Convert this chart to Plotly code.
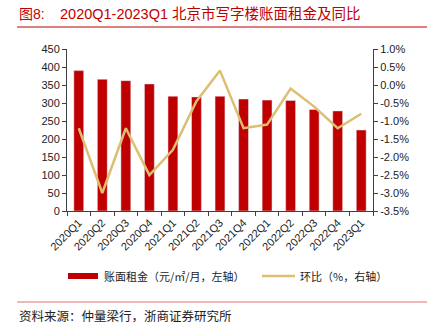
import plotly.graph_objects as go

quarters = ["2020Q1","2020Q2","2020Q3","2020Q4","2021Q1","2021Q2","2021Q3",
            "2021Q4","2022Q1","2022Q2","2022Q3","2022Q4","2023Q1"]
rent = [390, 366, 362, 353, 319, 317, 319, 311, 308, 307, 282, 278, 225]
qoq = [-1.2, -3.0, -1.2, -2.5, -1.8, -0.45, 0.4, -1.2, -1.1, -0.1, -0.6, -1.2, -0.8]
left_ticks = [0, 50, 100, 150, 200, 250, 300, 350, 400, 450]
right_ticks = [1.0, 0.5, 0.0, -0.5, -1.0, -1.5, -2.0, -2.5, -3.0, -3.5]

RED = "#C00000"
GOLD = "#DDBE72"
CJK = "Noto Sans CJK SC"
LAT = "Liberation Sans, Arial"

W, H = 432, 331
L, R, T, B = 67, 373, 49, 211

fig = go.Figure()
fig.add_trace(go.Bar(x=quarters, y=rent, marker_color=RED, width=0.42,
                     name="账面租金（元/㎡/月，左轴）", yaxis="y"))
fig.add_trace(go.Scatter(x=quarters, y=qoq, mode="lines", line=dict(color=GOLD, width=2.5),
                         name="环比（%，右轴）", yaxis="y2"))

axis_common = dict(showgrid=False, zeroline=False, showline=True, linecolor="#404040",
                   linewidth=1, ticks="outside", ticklen=4, tickcolor="#404040",
                   tickfont=dict(family=LAT, size=11, color="#222"))

fig.update_layout(
    width=W, height=H,
    margin=dict(l=L, r=W - R, t=T, b=H - B),
    paper_bgcolor="white", plot_bgcolor="white",
    showlegend=False,
    xaxis=dict(**axis_common, type="category", tickangle=-45, tickson="boundaries"),
    yaxis=dict(**axis_common, range=[0, 450], tickvals=left_ticks, ticktext=[str(v) for v in left_ticks]),
    yaxis2=dict(**axis_common, overlaying="y", side="right", range=[-3.5, 1.0],
                tickvals=right_ticks, ticktext=[f"{v:.1f}%" for v in right_ticks]),
)

pw, ph = R - L, B - T
def dx(x): return (x - L) / pw
def dy(y): return (B - y) / ph

fig.add_shape(type="line", xref="paper", yref="paper", x0=dx(17), x1=dx(427), y0=dy(27), y1=dy(27),
              line=dict(color=RED, width=1))
fig.add_shape(type="line", xref="paper", yref="paper", x0=dx(17), x1=dx(427), y0=dy(302), y1=dy(302),
              line=dict(color="#E07070", width=1))
fig.add_shape(type="rect", xref="paper", yref="paper", x0=dx(68), x1=dx(98), y0=dy(279), y1=dy(273),
              fillcolor=RED, line=dict(width=0))
fig.add_shape(type="line", xref="paper", yref="paper", x0=dx(262), x1=dx(295), y0=dy(276), y1=dy(276),
              line=dict(color=GOLD, width=2.5))

annos = [
    dict(text="图8:", x=dx(17), y=dy(14),
         font=dict(family=f"{LAT}, {CJK}", size=14, color=RED)),
    dict(text="2020Q1-2023Q1 北京市写字楼账面租金及同比", x=dx(58), y=dy(14),
         font=dict(family=f"{LAT}, {CJK}", size=14.5, color=RED)),
    dict(text="账面租金（元/㎡/月，左轴）", x=dx(102), y=dy(276),
         font=dict(family=CJK, size=11, color="#222")),
    dict(text="环比（%，右轴）", x=dx(298), y=dy(276),
         font=dict(family=CJK, size=11, color="#222")),
    dict(text="资料来源：仲量梁行，浙商证券研究所", x=dx(17), y=dy(315),
         font=dict(family=CJK, size=12.5, color="#222")),
]
for a in annos:
    fig.add_annotation(xref="paper", yref="paper", xanchor="left", yanchor="middle",
                       showarrow=False, **a)

fig.write_html("out.html")
